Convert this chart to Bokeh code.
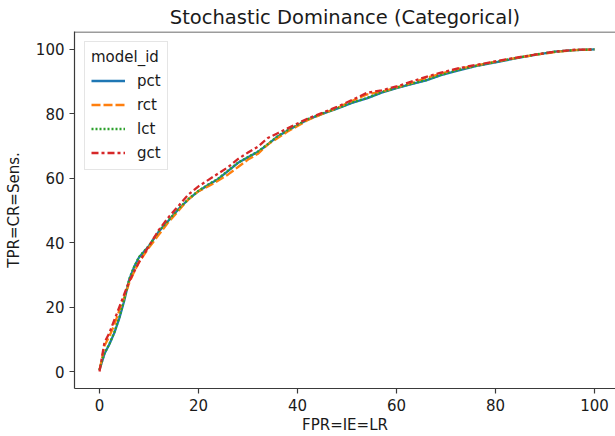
from bokeh.plotting import figure
from bokeh.models import FixedTicker, Range1d, Legend, LegendItem, Span
from bokeh.embed import file_html
from bokeh.resources import INLINE

# ---- data (percent) ----
fpr_grid = [0, 0.5, 1, 2, 3, 4, 5, 6, 7, 8, 10, 12, 14, 16, 18, 20, 22, 24, 26, 28,
            30, 32, 34, 36, 38, 40, 42, 45, 48, 51, 54, 57, 60, 63, 66, 69, 72, 76,
            80, 84, 88, 92, 96, 100]
pct_tpr = [0.5, 3, 5.5, 8.5, 12, 16.5, 22, 28.5, 32.5, 35.5, 39, 43.5, 47, 50.5, 53.5,
           56, 58, 59.8, 62.3, 64.8, 66.5, 68.2, 70.5, 73, 74.8, 76.5, 78.2, 80, 81.6,
           83.4, 84.8, 86.6, 88, 89.2, 90.4, 92, 93.3, 94.8, 96, 97.2, 98.3, 99.3, 99.8, 100]
lct_tpr = [0.5, 3.2, 5.6, 8.6, 12.2, 16.8, 22.3, 28.7, 32.6, 35.6, 39.1, 43.6, 47.1, 50.6, 53.6,
           56.1, 58.1, 59.9, 62.4, 64.9, 66.6, 68.3, 70.6, 73.1, 74.9, 76.6, 78.3, 80.1, 81.7,
           83.5, 84.9, 86.7, 88.1, 89.3, 90.5, 92.1, 93.4, 94.9, 96.1, 97.3, 98.4, 99.3, 99.8, 100]
rct_tpr = [0.5, 4, 8, 11, 14.5, 19, 23, 27.5, 31, 34, 38.5, 42.5, 46.5, 50, 53.5, 56, 57.5,
           59.3, 61.2, 63.5, 65.8, 67.6, 70.5, 72.5, 74.5, 76.2, 78, 80, 81.8, 84, 86,
           86.9, 88.2, 89.5, 91.2, 92.5, 93.8, 95, 96.2, 97.3, 98.3, 99.2, 99.8, 100]
gct_tpr = [0, 4.5, 9, 12, 16, 20, 24, 28, 31, 34, 39, 44, 48, 51.5, 55, 57.5, 59.5, 61.5,
           63.5, 66, 68, 69.8, 72.5, 74, 75.5, 77, 78.5, 80.3, 82.2, 84.3, 86.5, 87.3, 88.5,
           90, 91.5, 92.8, 94, 95.2, 96.3, 97.4, 98.4, 99.3, 99.9, 100]

series_names = ["pct", "rct", "lct", "gct"]
series_values = [pct_tpr, rct_tpr, lct_tpr, gct_tpr]
colors = ["#1f77b4", "#ff7f0e", "#2ca02c", "#d62728"]
dashes = ["solid", "9 3", "2 2", "7 3 3 3"]

xticks = [0, 20, 40, 60, 80, 100]
yticks = [0, 20, 40, 60, 80, 100]

FONT = "DejaVu Sans"
TXT = "#1a1a1a"
AX = "#3a3a3a"
Y0, Y1 = -5.26, 105.57

p = figure(width=615, height=436, output_backend="svg", toolbar_location=None,
           x_range=Range1d(-5.05, 104.24), y_range=Range1d(Y0, Y1),
           title="Stochastic Dominance (Categorical)",
           min_border_left=74, min_border_right=0, min_border_top=31, min_border_bottom=47,
           background_fill_color="white", border_fill_color="white")
p.outline_line_color = None
p.grid.visible = False

p.title.text_font = FONT
p.title.text_font_size = "19.5px"
p.title.text_font_style = "normal"
p.title.text_color = TXT
p.title.align = "center"
p.title.standoff = 6
p.title.offset = 2

for ax in (p.xaxis, p.yaxis):
    ax.axis_line_color = AX
    ax.axis_line_width = 1.2
    ax.major_tick_line_color = AX
    ax.major_tick_line_width = 1.2
    ax.major_tick_out = 5
    ax.major_tick_in = 0
    ax.minor_tick_line_color = None
    ax.major_label_text_font = FONT
    ax.major_label_text_font_size = "15px"
    ax.major_label_text_color = TXT
    ax.axis_label_text_font = FONT
    ax.axis_label_text_font_size = "15px"
    ax.axis_label_text_font_style = "normal"
    ax.axis_label_text_color = TXT
    ax.major_label_standoff = 5
p.xaxis.ticker = FixedTicker(ticks=xticks)
p.yaxis.ticker = FixedTicker(ticks=yticks)
p.xaxis.axis_label = "FPR=IE=LR"
p.yaxis.axis_label = "TPR=CR=Sens."
p.xaxis.axis_label_standoff = 2
p.yaxis.axis_label_standoff = 10

# top spine
p.add_layout(Span(location=Y1 - 0.15, dimension="width", line_color=AX, line_width=1.2))

items = []
for name, vals, c, d in zip(series_names, series_values, colors, dashes):
    r = p.line(fpr_grid, vals, line_color=c, line_width=2.3, line_dash=d)
    items.append(LegendItem(label=name, renderers=[r]))

leg = Legend(items=items, location="top_left", title="model_id")
leg.title_text_font = FONT
leg.title_text_font_size = "15px"
leg.title_text_font_style = "normal"
leg.title_text_color = TXT
leg.title_standoff = 4
leg.label_text_font = FONT
leg.label_text_font_size = "15px"
leg.label_text_color = TXT
leg.glyph_width = 34
leg.glyph_height = 21
leg.label_height = 21
leg.spacing = 3
leg.padding = 6
leg.margin = 10
leg.label_standoff = 12
leg.border_line_color = "#cccccc"
leg.border_line_width = 1
leg.background_fill_alpha = 0.8
p.add_layout(leg, "center")

open("out.html", "w").write(file_html(p, INLINE))
